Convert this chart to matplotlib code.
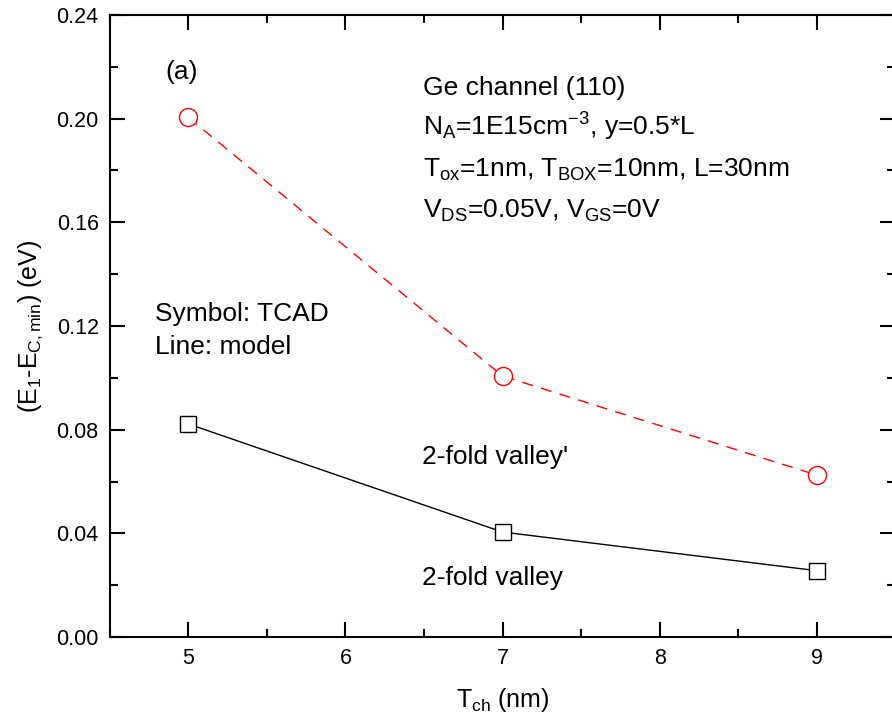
import matplotlib
matplotlib.use('Agg')
import matplotlib.pyplot as plt
from matplotlib.ticker import MultipleLocator

plt.rcParams['font.family'] = ['Liberation Sans', 'DejaVu Sans']
plt.rcParams['mathtext.fontset'] = 'custom'
plt.rcParams['mathtext.rm'] = 'Liberation Sans'
plt.rcParams['mathtext.it'] = 'Liberation Sans'

# Données
t_ch = [5, 7, 9]
valley_prime = [0.2005, 0.1007, 0.0625]   # 2-fold valley' (rouge)
valley = [0.0822, 0.0405, 0.0256]         # 2-fold valley (noir)
yticks = [0.00, 0.04, 0.08, 0.12, 0.16, 0.20, 0.24]

W, H = 892, 727
left, right, top, bottom = 109.8, 895.2, 15, 637

fig = plt.figure(figsize=(W / 100, H / 100), dpi=100)
ax = fig.add_axes([left / W, 1 - bottom / H, (right - left) / W, (bottom - top) / H])

ax.plot(t_ch, valley_prime, color='red', linestyle=(0, (8, 6)), linewidth=1.0,
        marker='o', markersize=13, markerfacecolor='white', markeredgecolor='red',
        markeredgewidth=1.0)
ax.plot(t_ch, valley, color='black', linestyle='-', linewidth=1.0,
        marker='s', markersize=12, markerfacecolor='white', markeredgecolor='black',
        markeredgewidth=1.0)

ax.set_xlim(4.5, 9.5)
ax.set_ylim(0, 0.24)
ax.set_xticks([5, 6, 7, 8, 9])
ax.set_yticks(yticks)
ax.set_yticklabels([f'{v:.2f}' for v in yticks])
ax.xaxis.set_minor_locator(MultipleLocator(0.5))
ax.yaxis.set_minor_locator(MultipleLocator(0.02))
ax.tick_params(which='both', direction='in', top=True, right=True, width=1.5)
ax.tick_params(which='major', length=11, labelsize=15.5, pad=8)
ax.tick_params(which='minor', length=6)
for s in ax.spines.values():
    s.set_linewidth(1.5)

ax.set_xlabel(r'T$_{\mathregular{ch}}$ (nm)', fontsize=18, labelpad=12)
ax.set_ylabel(r'(E$_{\mathregular{1}}$-E$_{\mathregular{C,min}}$) (eV)', fontsize=18, labelpad=8)


def put(xpix, ypix, s):
    # position en pixels de l'image, ligne de base du texte
    ax.text((xpix - left) / (right - left), (bottom - ypix) / (bottom - top), s,
            transform=ax.transAxes, fontsize=19, va='baseline', ha='left')


put(165, 79, '(a)')
lines = ['Ge channel (110)',
         r'N$_{\mathregular{A}}$=1E15cm$^{\mathregular{-3}}$, y=0.5*L',
         r'T$_{\mathregular{ox}}$=1nm, T$_{\mathregular{BOX}}$=10nm, L=30nm',
         r'V$_{\mathregular{DS}}$=0.05V, V$_{\mathregular{GS}}$=0V']
for i, s in enumerate(lines):
    put(423, 94.5 + i * 41, s)

put(155, 321, 'Symbol: TCAD')
put(155, 354, 'Line: model')
put(422, 464, "2-fold valley'")
put(422, 585, '2-fold valley')

fig.savefig('out.png', dpi=100)
